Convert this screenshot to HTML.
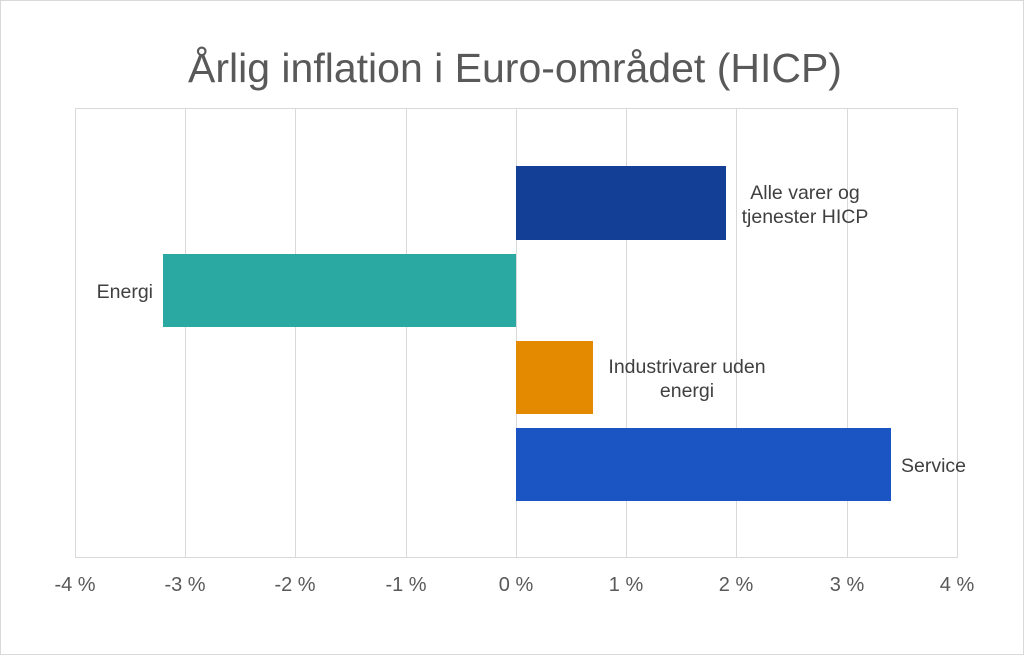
<!DOCTYPE html>
<html><head><meta charset="utf-8"><style>
html,body{margin:0;padding:0;background:#fff;}
svg{display:block;}
text{font-family:"Liberation Sans",sans-serif;}
</style></head><body>
<svg width="1024" height="655" viewBox="0 0 1024 655" xmlns="http://www.w3.org/2000/svg">
<rect x="0.5" y="0.5" width="1023" height="654" fill="#fff" stroke="#d9d9d9"/>
<text x="515" y="82" font-size="41" fill="#595959" text-anchor="middle">Årlig inflation i Euro-området (HICP)</text>
<g stroke="#d9d9d9" stroke-width="1">
<line x1="75.5" y1="108" x2="75.5" y2="558"/>
<line x1="185.5" y1="108" x2="185.5" y2="558"/>
<line x1="295.5" y1="108" x2="295.5" y2="558"/>
<line x1="406.5" y1="108" x2="406.5" y2="558"/>
<line x1="516.5" y1="108" x2="516.5" y2="558"/>
<line x1="626.5" y1="108" x2="626.5" y2="558"/>
<line x1="736.5" y1="108" x2="736.5" y2="558"/>
<line x1="847.5" y1="108" x2="847.5" y2="558"/>
<line x1="957.5" y1="108" x2="957.5" y2="558"/>
<line x1="75" y1="108.5" x2="957" y2="108.5"/>
<line x1="75" y1="557.5" x2="957" y2="557.5"/>
</g>
<rect x="516" y="166" width="210" height="74" fill="#143f96"/>
<rect x="163" y="254" width="353" height="73" fill="#29a9a2"/>
<rect x="516" y="341" width="77" height="73" fill="#e38a00"/>
<rect x="516" y="428" width="375" height="73" fill="#1a55c3"/>
<g font-size="19.5" fill="#404040">
<text x="805" y="199" text-anchor="middle">Alle varer og</text>
<text x="805" y="223" text-anchor="middle">tjenester HICP</text>
<text x="153" y="298" text-anchor="end">Energi</text>
<text x="687" y="373" text-anchor="middle">Industrivarer uden</text>
<text x="687" y="397" text-anchor="middle">energi</text>
<text x="901" y="472">Service</text>
</g>
<g font-size="20" fill="#595959" text-anchor="middle">
<text x="75" y="591">-4 %</text>
<text x="185" y="591">-3 %</text>
<text x="295" y="591">-2 %</text>
<text x="406" y="591">-1 %</text>
<text x="516" y="591">0 %</text>
<text x="626" y="591">1 %</text>
<text x="736" y="591">2 %</text>
<text x="847" y="591">3 %</text>
<text x="957" y="591">4 %</text>
</g>
</svg>
</body></html>
